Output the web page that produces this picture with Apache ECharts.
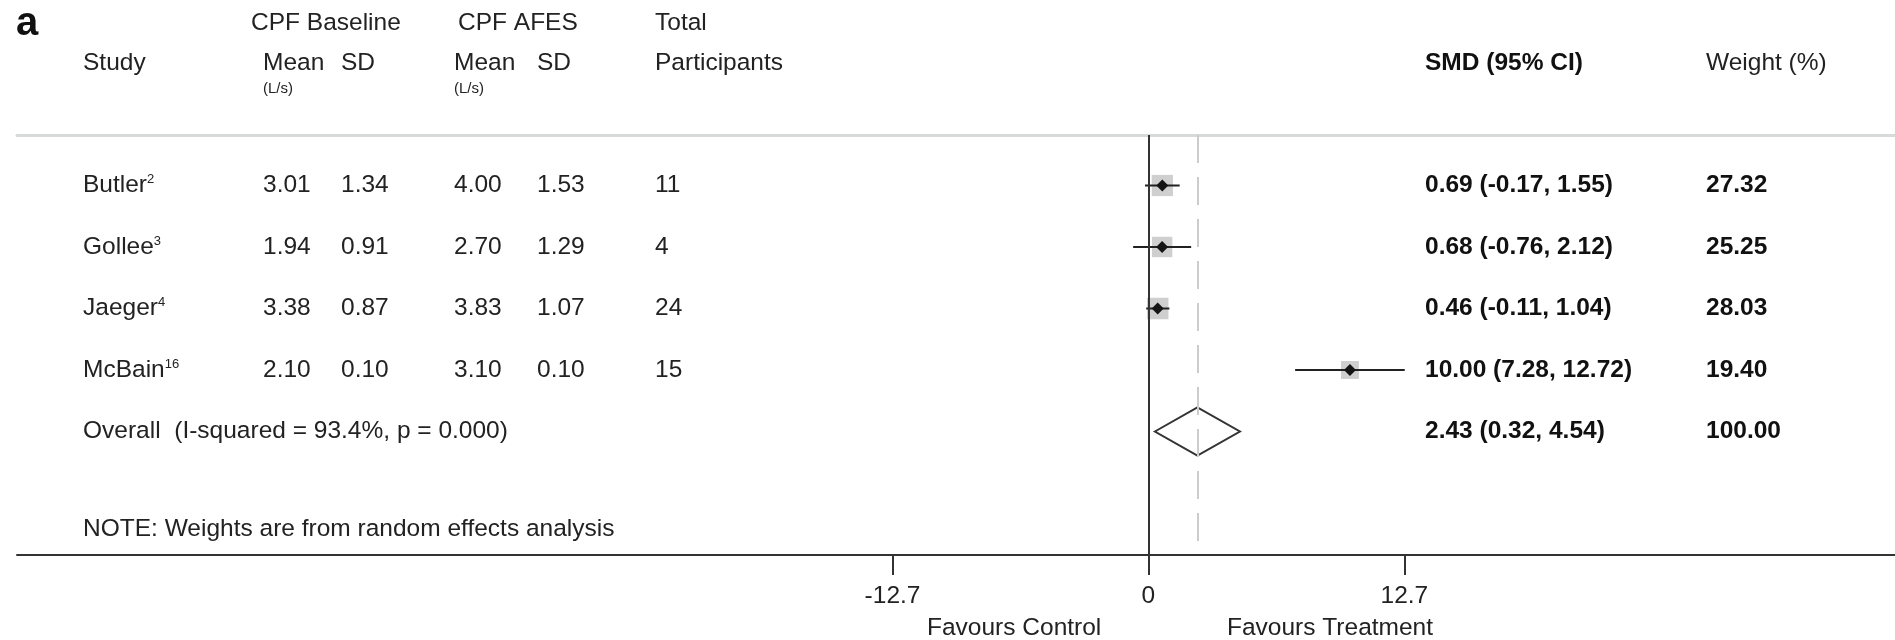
<!DOCTYPE html>
<html>
<head>
<meta charset="utf-8">
<title>CPF forest plot</title>
<script src="https://cdn.jsdelivr.net/npm/echarts@6/dist/echarts.min.js"></script>
<style>
  html, body { margin: 0; padding: 0; background: #fff; }
  #chart { width: 1895px; height: 640px; }
</style>
</head>
<body>
<div id="chart"></div>
<script>
// study rows
const studies = ['Butler', 'Gollee', 'Jaeger', 'McBain'];
const studyRefs = ['2', '3', '4', '16'];
const baselineMean = [3.01, 1.94, 3.38, 2.10];
const baselineSD = [1.34, 0.91, 0.87, 0.10];
const afesMean = [4.00, 2.70, 3.83, 3.10];
const afesSD = [1.53, 1.29, 1.07, 0.10];
const participants = [11, 4, 24, 15];
const smd = [0.69, 0.68, 0.46, 10.00];
const ciLow = [-0.17, -0.76, -0.11, 7.28];
const ciHigh = [1.55, 2.12, 1.04, 12.72];
const weights = [27.32, 25.25, 28.03, 19.40];

// pooled estimate
const overallSMD = 2.43;
const overallLow = 0.32;
const overallHigh = 4.54;
const overallWeight = 100.00;
const iSquared = 93.4;
const pValue = 0.000;

const xTicks = [-12.7, 0, 12.7];
const note = 'NOTE: Weights are from random effects analysis';

// layout (pixels) - kept apart from the data
const FONT = '"Liberation Sans", Arial, Helvetica, sans-serif';
const TXT = '#222';
const FS = 24.5;
const col = { study: 83, bMean: 263, bSD: 341, aMean: 454, aSD: 537, n: 655, smd: 1425, w: 1706 };
const overallRow = studies.length;
const noteRow = 5.585;

const chart = echarts.init(document.getElementById('chart'));

const textColumn = (x, texts, rows, extra) => ({
  type: 'scatter',
  xAxisIndex: 1,
  yAxisIndex: 0,
  silent: true,
  symbolSize: 0,
  z: 5,
  itemStyle: { opacity: 1, color: 'transparent' },
  data: texts.map((t, i) => ({ value: [x, rows[i]], txt: t })),
  label: Object.assign({
    show: true,
    position: 'right',
    distance: 0,
    color: TXT,
    fontSize: FS,
    fontFamily: FONT,
    formatter: p => p.data.txt
  }, extra || {})
});

const rowIdx = studies.map((_, i) => i);
const fmt2 = v => v.toFixed(2);
const ciText = (m, lo, hi) => `${fmt2(m)} (${fmt2(lo)}, ${fmt2(hi)})`;
const maxW = Math.max(...weights);

const hText = (text, x, y, opts) => ({
  type: 'text',
  x: x,
  y: y,
  silent: true,
  style: Object.assign({
    text: text,
    fill: TXT,
    fontSize: FS,
    fontFamily: FONT,
    align: 'left',
    textAlign: 'left',
    verticalAlign: 'middle',
    textVerticalAlign: 'middle'
  }, opts || {})
});

const option = {
  animation: false,
  backgroundColor: '#fff',
  grid: { left: 17, right: 0, top: 135, bottom: 85 },
  xAxis: [
    {
      type: 'value',
      position: 'bottom',
      min: -56.15,
      max: 37.05,
      splitLine: { show: false },
      axisLine: { onZero: false, lineStyle: { color: '#333', width: 2 } },
      axisTick: { customValues: xTicks, length: 20, lineStyle: { color: '#333', width: 2 } },
      axisLabel: {
        customValues: xTicks,
        margin: 29,
        color: TXT,
        fontSize: FS,
        fontFamily: FONT,
        formatter: v => (v === 0 ? '0' : v.toFixed(1))
      }
    },
    {
      // pixel scale used for the table columns; its line is the header rule
      type: 'value',
      position: 'top',
      min: 17,
      max: 1895,
      splitLine: { show: false },
      axisTick: { show: false },
      axisLabel: { show: false },
      axisLine: { onZero: false, lineStyle: { color: '#d6dada', width: 3 } }
    }
  ],
  yAxis: {
    type: 'value',
    inverse: true,
    min: -0.821,
    max: 6.008,
    show: false,
    axisLine: { onZero: false }
  },
  series: [
    {
      // weight boxes
      type: 'scatter',
      silent: true,
      z: 2,
      symbol: 'rect',
      symbolSize: d => 21.5 * Math.sqrt(d[2] / maxW),
      itemStyle: { color: '#cfcfcf', opacity: 1 },
      data: smd.map((v, i) => [v, i, weights[i]])
    },
    {
      // confidence intervals + reference lines
      type: 'custom',
      silent: true,
      z: 3,
      encode: { x: [0, 1], y: 2 },
      data: rowIdx.map(i => [ciLow[i], ciHigh[i], i]),
      renderItem: (params, api) => {
        const y = api.value(2);
        const a = api.coord([api.value(0), y]);
        const b = api.coord([api.value(1), y]);
        return {
          type: 'line',
          shape: { x1: a[0], y1: a[1], x2: b[0], y2: b[1] },
          style: { stroke: '#222', lineWidth: 2 }
        };
      },
      markLine: {
        silent: true,
        symbol: 'none',
        label: { show: false },
        data: [
          { xAxis: 0, lineStyle: { color: '#333', width: 2, type: 'solid' } },
          { xAxis: overallSMD, lineStyle: { color: '#cccccc', width: 2, type: [28, 14] } }
        ]
      }
    },
    {
      // point estimates
      type: 'scatter',
      silent: true,
      z: 4,
      symbol: 'diamond',
      symbolSize: 12,
      itemStyle: { color: '#151515', opacity: 1 },
      data: smd.map((v, i) => [v, i])
    },
    {
      // pooled diamond
      type: 'custom',
      silent: true,
      z: 4,
      encode: { x: [0, 1, 2], y: 3 },
      data: [[overallLow, overallSMD, overallHigh, overallRow]],
      renderItem: (params, api) => {
        const r = api.value(3);
        const l = api.coord([api.value(0), r]);
        const c = api.coord([api.value(1), r]);
        const h = api.coord([api.value(2), r]);
        const half = 24;
        return {
          type: 'polygon',
          shape: { points: [l, [c[0], c[1] - half], h, [c[0], c[1] + half]] },
          style: { stroke: '#333', lineWidth: 2, fill: 'none' }
        };
      }
    },
    textColumn(col.study, studies.map((s, i) => `{n|${s}}{s|${studyRefs[i]}}`), rowIdx, {
      rich: {
        n: { fontSize: FS, fontFamily: FONT, color: TXT },
        s: { fontSize: 13, fontFamily: FONT, color: TXT, verticalAlign: 'top' }
      }
    }),
    textColumn(col.bMean, baselineMean.map(fmt2), rowIdx),
    textColumn(col.bSD, baselineSD.map(fmt2), rowIdx),
    textColumn(col.aMean, afesMean.map(fmt2), rowIdx),
    textColumn(col.aSD, afesSD.map(fmt2), rowIdx),
    textColumn(col.n, participants.map(String), rowIdx),
    textColumn(col.smd,
      smd.map((m, i) => ciText(m, ciLow[i], ciHigh[i])).concat(ciText(overallSMD, overallLow, overallHigh)),
      rowIdx.concat(overallRow), { fontWeight: 'bold', color: '#111' }),
    textColumn(col.w, weights.concat(overallWeight).map(fmt2), rowIdx.concat(overallRow),
      { fontWeight: 'bold', color: '#111' }),
    textColumn(col.study,
      [`Overall  (I-squared = ${iSquared.toFixed(1)}%, p = ${pValue.toFixed(3)})`, note],
      [overallRow, noteRow])
  ],
  graphic: [
    hText('a', 16, 24, { fontSize: 40, fontWeight: 'bold', fill: '#111' }),
    hText('CPF Baseline', 251, 23),
    hText('CPF AFES', 458, 23),
    hText('Total', 655, 23),
    hText('Study', col.study, 63),
    hText('Mean', col.bMean, 63),
    hText('SD', col.bSD, 63),
    hText('(L/s)', col.bMean, 89, { fontSize: 15 }),
    hText('Mean', col.aMean, 63),
    hText('SD', col.aSD, 63),
    hText('(L/s)', col.aMean, 89, { fontSize: 15 }),
    hText('Participants', col.n, 63),
    hText('SMD (95% CI)', col.smd, 63, { fontWeight: 'bold', fill: '#111' }),
    hText('Weight (%)', col.w, 63),
    hText('Favours Control', 927, 628),
    hText('Favours Treatment', 1227, 628)
  ]
};

chart.setOption(option);
</script>
</body>
</html>
